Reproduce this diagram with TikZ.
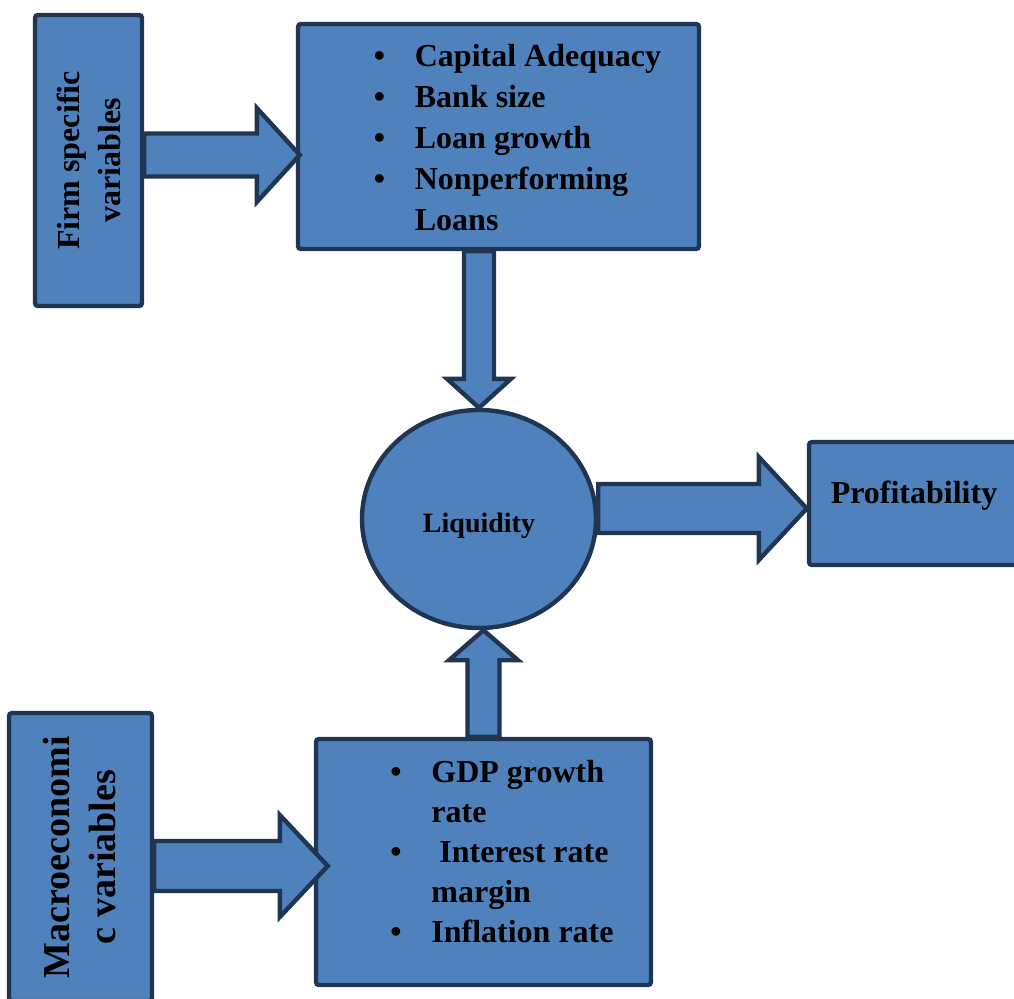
\documentclass[tikz,border=0pt]{standalone}
\usepackage{fontspec}
\usepackage{graphicx}
\setmainfont{Liberation Serif}
\usetikzlibrary{calc,shapes.geometric}

\definecolor{boxfill}{HTML}{4F81BD}
\definecolor{boxline}{HTML}{1F3552}

% Block arrow from (#1) to its tip (#2): half shaft, half head, head length
\newcommand{\blockarrow}[5]{%
  \coordinate (hb) at ($(#2)!#5!(#1)$);
  \draw[arrowbody] ($(#1)!#3!90:(#2)$) -- ($(hb)!#3!90:(#2)$) -- ($(hb)!#4!90:(#2)$)
    -- (#2) -- ($(hb)!#4!-90:(#2)$) -- ($(hb)!#3!-90:(#2)$) -- ($(#1)!#3!-90:(#2)$) -- cycle;
}

\begin{document}
\begin{tikzpicture}[x=0.5pt, y=-0.5pt,
    every node/.style={font=\bfseries\fontsize{16}{20.5}\selectfont},
    box/.style={draw=boxline, fill=boxfill, line width=2.2pt, rounded corners=1.5pt, inner sep=0pt},
    liqstyle/.style={ellipse, draw=boxline, fill=boxfill, line width=2.2pt, inner sep=0pt},
    arrowbody/.style={draw=boxline, fill=boxfill, line width=2.2pt, line join=miter}]

    \useasboundingbox (0,0) rectangle (1014,998);

    % Firm specific variables and their list
    \node[box, minimum width=53.5pt, minimum height=145.5pt] (firm) at (88.5,160.5)
        {\rotatebox{90}{\begin{tabular}{@{}c@{}}Firm specific\\variables\\[-3pt]\end{tabular}}};
    \node[box, minimum width=200.5pt, minimum height=112.5pt] (firmlist) at (498.5,136.5)
        {\begin{tabular}{@{\hspace*{19pt}}p{20.5pt}@{}l@{}}
            \textbullet & Capital Adequacy\\
            \textbullet & Bank size\\
            \textbullet & Loan growth\\
            \textbullet & Nonperforming\\
                        & Loans\\[-4pt]
        \end{tabular}};

    % Liquidity and profitability
    \node[liqstyle, minimum width=117pt, minimum height=109pt, text height=13pt, text depth=0pt,
          font=\bfseries\fontsize{14}{17}\selectfont] (liq) at (479,519) {Liquidity};
    \node[box, minimum width=105pt, minimum height=61.5pt,
          text height=10pt, text depth=10pt] (profit) at (914,503.5) {Profitability};

    % Macroeconomic variables and their list
    \node[box, minimum width=71.5pt, minimum height=144pt,
          font=\bfseries\fontsize{19}{23}\selectfont] (macro) at (80.5,857)
        {\rotatebox{90}{\begin{tabular}{@{}c@{}}Macroeconomi\\c variables\\[-3pt]\end{tabular}}};
    \node[box, minimum width=167.5pt, minimum height=123pt,
          font=\bfseries\fontsize{16}{20}\selectfont] (macrolist) at (483.5,862)
        {\begin{tabular}{@{\hspace*{18.5pt}}p{20.5pt}@{}l@{}}
            \textbullet & GDP growth\\
                        & rate\\
            \textbullet & \ Interest rate\\
                        & margin\\
            \textbullet & Inflation rate\\[8pt]
        \end{tabular}};

    % Arrow from firm specific variables to the list
    \coordinate (ftip) at ($(firmlist.west)+(4,18.5)$);
    \coordinate (fstart) at (firm.east |- ftip);
    \blockarrow{fstart}{ftip}{10.75pt}{23.5pt}{21.5pt}

    % Arrow down to liquidity
    \coordinate (dstart) at (firmlist.south -| liq.north);
    \blockarrow{dstart}{liq.north}{7.5pt}{16pt}{14.5pt}

    % Arrow up from the macroeconomic list
    \coordinate (utip) at (macrolist.north |- liq.south);
    \blockarrow{macrolist.north}{utip}{8pt}{17.25pt}{15pt}

    % Arrow from liquidity to profitability
    \coordinate (ptip) at ($(profit.west)+(0,5)$);
    \coordinate (pstart) at (liq.east |- ptip);
    \blockarrow{pstart}{ptip}{12.25pt}{25.75pt}{24pt}

    % Arrow from macroeconomic variables to the list
    \coordinate (mtip) at ($(macrolist.west)+(14,4)$);
    \coordinate (mstart) at (macro.east |- mtip);
    \blockarrow{mstart}{mtip}{12.5pt}{25.5pt}{24pt}

\end{tikzpicture}
\end{document}
